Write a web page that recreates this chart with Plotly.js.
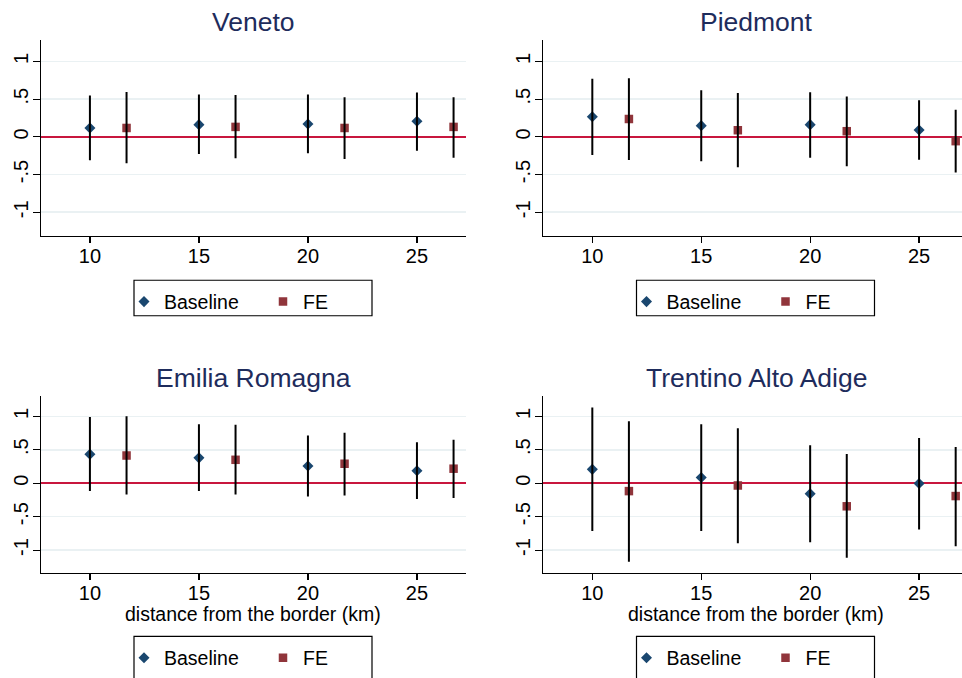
<!DOCTYPE html>
<html>
<head>
<meta charset="utf-8">
<script src="https://cdn.plot.ly/plotly-3.0.1.min.js"></script>
<style>html,body{margin:0;padding:0;background:#fff;}#chart{width:962px;height:678px;}</style>
</head>
<body>
<div id="chart"></div>
<script>
// ---- Data ----
const regions = ["Veneto", "Piedmont", "Emilia Romagna", "Trentino Alto Adige"];
const distances = [10, 15, 20, 25];
const feShift = 1.68; // horizontal offset of FE estimates (display only)
const yTickVals = [-1, -0.5, 0, 0.5, 1];
const yTickText = ["-1", "-.5", "0", ".5", "1"];
const xTickVals = [10, 15, 20, 25];
const xTickText = ["10", "15", "20", "25"];
const xAxisTitle = "distance from the border (km)";

const venetoBase   = [0.118, 0.162, 0.171, 0.206];
const venetoBaseLo = [-0.311, -0.228, -0.219, -0.184];
const venetoBaseHi = [0.548, 0.561, 0.561, 0.588];
const venetoFE     = [0.118, 0.132, 0.118, 0.132];
const venetoFELo   = [-0.351, -0.285, -0.294, -0.276];
const venetoFEHi   = [0.596, 0.557, 0.526, 0.526];

const piedmontBase   = [0.268, 0.149, 0.162, 0.092];
const piedmontBaseLo = [-0.241, -0.325, -0.276, -0.303];
const piedmontBaseHi = [0.772, 0.618, 0.592, 0.487];
const piedmontFE     = [0.237, 0.088, 0.075, -0.057];
const piedmontFELo   = [-0.307, -0.404, -0.390, -0.474];
const piedmontFEHi   = [0.776, 0.583, 0.535, 0.360];

const emiliaBase   = [0.433, 0.379, 0.256, 0.187];
const emiliaBaseLo = [-0.118, -0.118, -0.197, -0.236];
const emiliaBaseHi = [0.990, 0.882, 0.714, 0.611];
const emiliaFE     = [0.414, 0.350, 0.291, 0.217];
const emiliaFELo   = [-0.167, -0.167, -0.182, -0.222];
const emiliaFEHi   = [1.000, 0.872, 0.754, 0.650];

const trentinoBase   = [0.207, 0.084, -0.158, -0.005];
const trentinoBaseLo = [-0.714, -0.714, -0.882, -0.690];
const trentinoBaseHi = [1.133, 0.882, 0.567, 0.675];
const trentinoFE     = [-0.118, -0.034, -0.345, -0.192];
const trentinoFELo   = [-1.172, -0.897, -1.113, -0.941];
const trentinoFEHi   = [0.926, 0.823, 0.438, 0.542];

// ---- Styling ----
const W = 962, H = 678;
const FONT = "Liberation Sans, Arial, sans-serif";
const BASE_COLOR = "#1a476f";
const FE_COLOR = "#90353b";
const TITLE_COLOR = "#1e2c5c";
const GRID_COLOR = "#eaf1f3";
const ZERO_COLOR = "#c8163e";
const px = x => x / W;
const py = y => 1 - y / H;

const panels = [
  {name: regions[0], b: venetoBase, bLo: venetoBaseLo, bHi: venetoBaseHi, f: venetoFE, fLo: venetoFELo, fHi: venetoFEHi},
  {name: regions[1], b: piedmontBase, bLo: piedmontBaseLo, bHi: piedmontBaseHi, f: piedmontFE, fLo: piedmontFELo, fHi: piedmontFEHi},
  {name: regions[2], b: emiliaBase, bLo: emiliaBaseLo, bHi: emiliaBaseHi, f: emiliaFE, fLo: emiliaFELo, fHi: emiliaFEHi},
  {name: regions[3], b: trentinoBase, bLo: trentinoBaseLo, bHi: trentinoBaseHi, f: trentinoFE, fLo: trentinoFELo, fHi: trentinoFEHi}
];

const geom = [
  {x0: 41.3, x1: 466, y0: 41, y1: 239.3, xr: [7.77, 27.25], yr: [-1.317, 1.279], cx: 253.5, top: true},
  {x0: 543.3, x1: 962, y0: 41, y1: 239.3, xr: [7.75, 26.97], yr: [-1.317, 1.279], cx: 756, top: true},
  {x0: 41.3, x1: 466, y0: 401.7, y1: 580.3, xr: [7.77, 27.25], yr: [-1.336, 1.298], cx: 253.5, top: false},
  {x0: 543.3, x1: 962, y0: 401.7, y1: 580.3, xr: [7.75, 26.97], yr: [-1.336, 1.298], cx: 756, top: false}
];

function ciLine(xs, lo, hi) {
  const x = [], y = [];
  xs.forEach((v, i) => { x.push(v, v, null); y.push(lo[i], hi[i], null); });
  return {x, y};
}

const traces = [];
const layout = {
  width: W, height: H,
  margin: {l: 0, r: 0, t: 0, b: 0},
  paper_bgcolor: "#fff", plot_bgcolor: "#fff",
  font: {family: FONT, color: "#000", size: 18},
  annotations: [], shapes: []
};

panels.forEach((p, k) => {
  const g = geom[k];
  const n = k + 1;
  const xa = n === 1 ? "x" : "x" + n;
  const ya = n === 1 ? "y" : "y" + n;
  const lg = n === 1 ? "legend" : "legend" + n;
  const feX = distances.map(d => d + feShift);

  traces.push({
    type: "scatter", mode: "markers", name: "Baseline", x: distances, y: p.b,
    xaxis: xa, yaxis: ya, legend: lg, cliponaxis: false,
    marker: {symbol: "diamond", size: 8.5, color: BASE_COLOR}
  });
  traces.push({
    type: "scatter", mode: "markers", name: "FE", x: feX, y: p.f,
    xaxis: xa, yaxis: ya, legend: lg, cliponaxis: false,
    marker: {symbol: "square", size: 8.5, color: FE_COLOR}
  });
  const cb = ciLine(distances, p.bLo, p.bHi);
  const cf = ciLine(feX, p.fLo, p.fHi);
  traces.push({type: "scatter", mode: "lines", x: cb.x, y: cb.y, xaxis: xa, yaxis: ya,
    showlegend: false, hoverinfo: "skip", cliponaxis: false, line: {color: "#000", width: 2}});
  traces.push({type: "scatter", mode: "lines", x: cf.x, y: cf.y, xaxis: xa, yaxis: ya,
    showlegend: false, hoverinfo: "skip", cliponaxis: false, line: {color: "#000", width: 2}});

  const axKeyX = n === 1 ? "xaxis" : "xaxis" + n;
  const axKeyY = n === 1 ? "yaxis" : "yaxis" + n;
  layout[axKeyX] = {
    domain: [px(g.x0), px(g.x1)], range: g.xr, anchor: ya,
    tickvals: xTickVals, ticktext: xTickText,
    showgrid: false, zeroline: false, showline: true, linecolor: "#000", linewidth: 1.2,
    ticks: "outside", ticklen: 6, tickcolor: "#000", tickwidth: 1.2, ticklabelstandoff: -4,
    tickfont: {size: 20, family: FONT, color: "#000"}, fixedrange: true
  };
  layout[axKeyY] = {
    domain: [py(g.y1), py(g.y0)], range: g.yr, anchor: xa,
    tickvals: yTickVals, ticktext: yTickText, tickangle: -90,
    showgrid: true, gridcolor: GRID_COLOR, gridwidth: 1.5,
    zeroline: true, zerolinecolor: ZERO_COLOR, zerolinewidth: 2,
    showline: true, linecolor: "#000", linewidth: 1.2,
    ticks: "outside", ticklen: 7.5, tickcolor: "#000", tickwidth: 1.2, ticklabelstandoff: -3,
    tickfont: {size: 20, family: FONT, color: "#000"}, fixedrange: true
  };

  layout.annotations.push({
    text: p.name, xref: "paper", yref: "paper", x: px(g.cx), y: py(g.top ? 22 : 383),
    xanchor: "center", yanchor: "middle", showarrow: false,
    font: {size: 26.5, family: FONT, color: TITLE_COLOR}
  });
  if (!g.top) {
    layout.annotations.push({
      text: xAxisTitle, xref: "paper", yref: "paper", x: px(g.cx), y: py(622),
      xanchor: "center", yanchor: "middle", showarrow: false,
      font: {size: 19.5, family: FONT, color: "#000"}
    });
  }
  const lx0 = g.cx - 119.5, lx1 = g.cx + 118.5;
  const ly0 = g.top ? 284 : 645, ly1 = g.top ? 320 : 700;
  layout.shapes.push({type: "rect", xref: "paper", yref: "paper",
    x0: px(lx0), x1: px(lx1), y0: py(ly1), y1: py(ly0),
    line: {color: "#000", width: 1.2}, fillcolor: "rgba(0,0,0,0)"});
  layout[lg] = {
    orientation: "h", xanchor: "left", yanchor: "middle",
    x: px(lx0 - 10), y: py(g.top ? 306 : 667),
    bgcolor: "rgba(0,0,0,0)", borderwidth: 0,
    font: {size: 19.5, family: FONT, color: "#000"},
    entrywidth: 94, entrywidthmode: "pixels", itemclick: false, itemdoubleclick: false
  };
});

Plotly.newPlot("chart", traces, layout, {displayModeBar: false, staticPlot: true});
</script>
</body>
</html>
